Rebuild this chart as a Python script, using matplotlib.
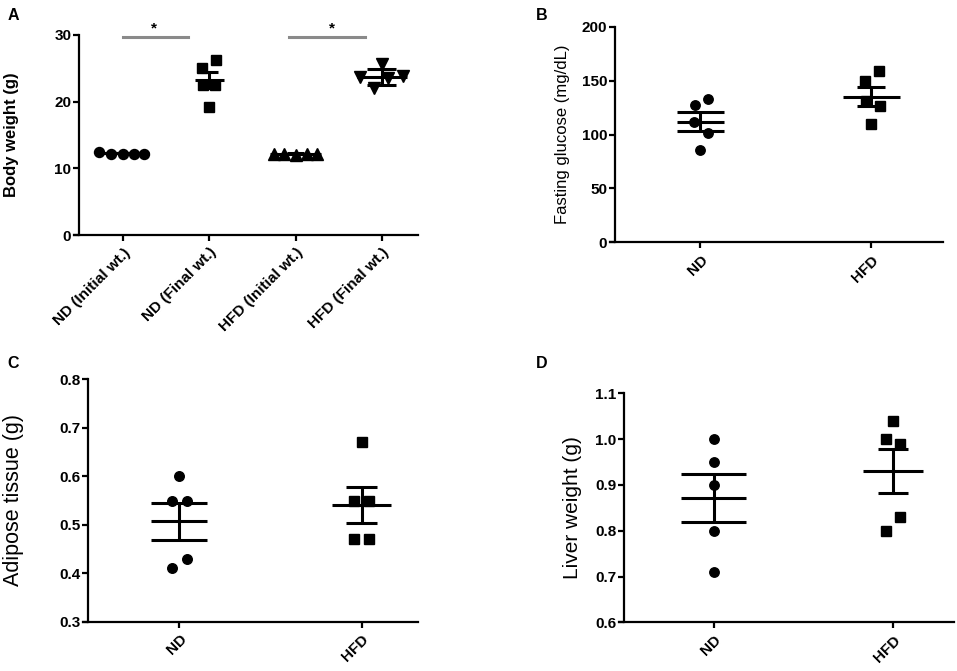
import matplotlib.pyplot as plt
import numpy as np

plt.rcParams['font.family'] = ['Liberation Sans', 'DejaVu Sans']

# ---- data ----
# A: body weight (g)
a_groups = ['ND (Initial wt.)', 'ND (Final wt.)', 'HFD (Initial wt.)', 'HFD (Final wt.)']
a_nd_init = [12.5, 12.2, 12.2, 12.2, 12.2]
a_nd_final = [25.1, 26.3, 22.5, 22.5, 19.2]
a_hfd_init = [12.2, 12.2, 12.0, 12.2, 12.2]
a_hfd_final = [23.65, 25.65, 23.5, 23.85, 22.1]
a_mean = [12.3, 23.2, 12.2, 23.7]
a_sem = [0.05, 1.2, 0.05, 1.15]

# B: fasting glucose (mg/dL)
b_groups = ['ND', 'HFD']
b_nd = [127, 133, 112, 101, 86]
b_hfd = [150, 159, 131, 126, 110]
b_mean = [111.9, 135.0]
b_sem = [8.6, 8.7]

# C: adipose tissue (g)
c_groups = ['ND', 'HFD']
c_nd = [0.60, 0.55, 0.55, 0.43, 0.41]
c_hfd = [0.67, 0.55, 0.55, 0.47, 0.47]
c_mean = [0.507, 0.541]
c_sem = [0.038, 0.037]

# D: liver weight (g)
d_groups = ['ND', 'HFD']
d_nd = [1.00, 0.95, 0.90, 0.80, 0.71]
d_hfd = [1.04, 1.00, 0.99, 0.83, 0.80]
d_mean = [0.871, 0.930]
d_sem = [0.052, 0.048]

# ---- layout / style ----
W, H = 957, 671
fig = plt.figure(figsize=(W / 100, H / 100), dpi=100)


def px_axes(left, right, top, bottom):
    return fig.add_axes([left / W, 1 - bottom / H, (right - left) / W, (bottom - top) / H])


LW = 2.2


def dot_panel(ax, series, offsets, markers, sizes, means, sems, mean_hw, cap_hw):
    for i, vals in enumerate(series):
        xs = i + np.array(offsets[i])
        ax.plot(xs, vals, linestyle='none', marker=markers[i], ms=sizes[i],
                color='black', zorder=2, clip_on=False)
        m, e = means[i], sems[i]
        ax.hlines(m, i - mean_hw[i], i + mean_hw[i], color='black', lw=LW, zorder=3)
        ax.hlines([m - e, m + e], i - cap_hw[i], i + cap_hw[i], color='black', lw=LW, zorder=3)
        ax.vlines(i, m - e, m + e, color='black', lw=LW, zorder=3)


def style(ax, groups, xlim, ylim, yticks, fmt, ylabel, label_kw, label_x):
    ax.set_xlim(*xlim)
    ax.set_ylim(*ylim)
    for s in ['top', 'right']:
        ax.spines[s].set_visible(False)
    for s in ['left', 'bottom']:
        ax.spines[s].set_linewidth(1.6)
    # x axis line runs a few pixels left of the y axis, GraphPad style
    ax_w = ax.get_position().width * W
    ext = 5 / ax_w * (xlim[1] - xlim[0])
    ax.spines['bottom'].set_bounds(xlim[0] - ext, xlim[1])
    ax.set_yticks(yticks, labels=[fmt % t for t in yticks], fontweight='bold', fontsize=11)
    ax.set_xticks(range(len(groups)), labels=groups, rotation=45, ha='right',
                  rotation_mode='anchor', fontweight='bold', fontsize=11)
    ax.tick_params(axis='y', length=4, width=1.6, pad=1.5)
    ax.tick_params(axis='x', length=4.5, width=1.6, pad=3)
    ax.set_ylabel(ylabel, **label_kw)
    ax.yaxis.label.set_va('center')
    ax.yaxis.set_label_coords(label_x, 0.5)


# Panel A
axA = px_axes(79, 418, 35, 235)
dot_panel(axA, [a_nd_init, a_nd_final, a_hfd_init, a_hfd_final],
          [[-0.28, -0.14, 0, 0.13, 0.24], [-0.085, 0.08, -0.07, 0.07, 0],
           [-0.25, -0.13, 0, 0.13, 0.25], [-0.255, 0, 0.075, 0.25, -0.09]],
          ['o', 's', '^', 'v'], [7.2, 7.2, 8.0, 8.0], a_mean, a_sem,
          [0.3, 0.17, 0.3, 0.29], [0.1, 0.1, 0.1, 0.17])
style(axA, a_groups, (-0.51, 3.42), (0, 30), [0, 10, 20, 30], '%g',
      'Body weight (g)', dict(fontsize=12, fontweight='bold'), (12 - 79) / 339)
sig_color = '#8a8a8a'
axA.plot([0, 0.75], [29.7, 29.7], color=sig_color, lw=2.2, clip_on=False)
axA.plot([1.93, 2.8], [29.7, 29.7], color=sig_color, lw=2.2, clip_on=False)
axA.text(0.36, 31.0, '*', ha='center', va='center', fontsize=11, fontweight='bold')
axA.text(2.42, 31.0, '*', ha='center', va='center', fontsize=11, fontweight='bold')

# Panel B
axB = px_axes(615, 943, 26.7, 242.3)
dot_panel(axB, [b_nd, b_hfd],
          [[-0.033, 0.045, -0.037, 0.045, 0], [-0.035, 0.045, -0.03, 0.05, 0]],
          ['o', 's'], [6.8, 7.2], b_mean, b_sem, [0.136, 0.168], [0.136, 0.083])
style(axB, b_groups, (-0.5, 1.42), (0, 200), [0, 50, 100, 150, 200], '%g',
      'Fasting glucose (mg/dL)', dict(fontsize=12), (563 - 615) / 328)

# Panel C
axC = px_axes(88.3, 418, 379.3, 621.7)
dot_panel(axC, [c_nd, c_hfd],
          [[0, -0.042, 0.04, 0.04, -0.042], [0, -0.042, 0.04, -0.042, 0.04]],
          ['o', 's'], [6.9, 7.4], c_mean, c_sem, [0.154, 0.163], [0.154, 0.083])
style(axC, c_groups, (-0.5, 1.31), (0.3, 0.8), [0.3, 0.4, 0.5, 0.6, 0.7, 0.8], '%.1f',
      'Adipose tissue (g)', dict(fontsize=15.5), (13 - 88.3) / 329.7)

# Panel D
axD = px_axes(624, 954, 393.3, 622.3)
dot_panel(axD, [d_nd, d_hfd],
          [[0, 0, 0, 0, 0], [0, -0.041, 0.041, 0.041, -0.041]],
          ['o', 's'], [6.8, 7.0], d_mean, d_sem, [0.18, 0.166], [0.18, 0.084])
style(axD, d_groups, (-0.5, 1.34), (0.6, 1.1), [0.6, 0.7, 0.8, 0.9, 1.0, 1.1], '%.1f',
      'Liver weight (g)', dict(fontsize=15), (572.5 - 624) / 330)

# panel letters
for letter, (x, y) in {'A': (13, 16), 'B': (541.7, 16), 'C': (13, 363), 'D': (541.7, 363)}.items():
    fig.text(x / W, 1 - y / H, letter, ha='center', va='center', fontsize=11.5, fontweight='bold')

fig.savefig('out.png', dpi=100)
